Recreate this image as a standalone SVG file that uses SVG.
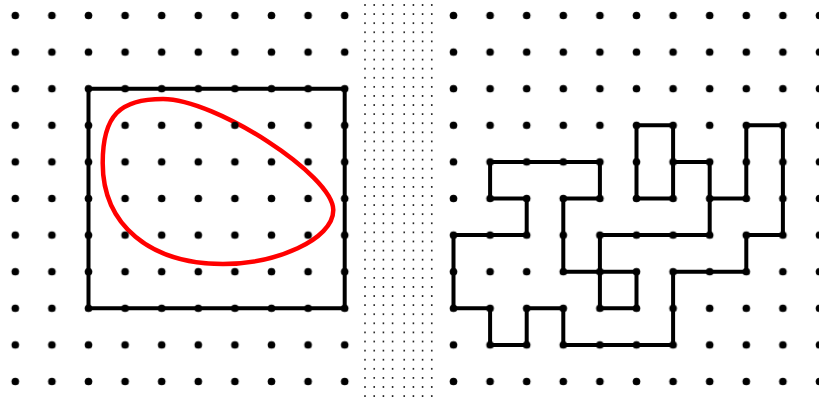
<svg xmlns="http://www.w3.org/2000/svg" width="819" height="399" viewBox="0 0 819 399">
  <style>
    .fig { fill: none; stroke: #000; stroke-width: 4; stroke-linejoin: round; stroke-linecap: round; }
    .curve { fill: none; stroke: #ff0000; stroke-width: 4.5; }
  </style>
  <defs>
    <pattern id="gridL" patternUnits="userSpaceOnUse" x="-3" y="-2.8" width="36.6" height="36.6">
      <circle cx="18.3" cy="18.3" r="3.8" fill="#000"/>
    </pattern>
    <pattern id="gridR" patternUnits="userSpaceOnUse" x="435.2" y="-2.8" width="36.6" height="36.6">
      <circle cx="18.3" cy="18.3" r="3.8" fill="#000"/>
    </pattern>
    <pattern id="fine" patternUnits="userSpaceOnUse" x="360" y="0.45" width="80" height="9.095">
      <circle cx="5" cy="4.55" r="0.95" fill="#111"/>
      <circle cx="14.2" cy="4.55" r="0.95" fill="#111"/>
      <circle cx="23.4" cy="4.55" r="0.95" fill="#111"/>
      <circle cx="32.6" cy="4.55" r="0.95" fill="#111"/>
      <circle cx="44.2" cy="4.55" r="0.95" fill="#111"/>
      <circle cx="53.4" cy="4.55" r="0.95" fill="#111"/>
      <circle cx="62.6" cy="4.55" r="0.95" fill="#111"/>
      <circle cx="71.8" cy="4.55" r="0.95" fill="#111"/>
    </pattern>
  </defs>
  <rect width="819" height="399" fill="#fff"/>

  <g id="middle-strip">
    <rect x="360" y="0" width="80" height="399" fill="url(#fine)"/>
  </g>

  <g id="left-figure">
    <path id="red-curve" class="curve" d="M163,99 C215,99 333,175 333.3,210 C333.3,240 275,264 223,264 C150,264 102.7,225 102.7,163 C102.7,115 120,99 163,99 Z"/>
    <rect id="rectangle" class="fig" x="88.5" y="88.7" width="256.2" height="219.6"/>
  </g>

  <g id="right-figure">
    <path class="fig" d="M673.1,161.9 L709.7,161.9 L709.7,235.1 L599.9,235.1 L599.9,308.3 L636.5,308.3 L636.5,271.7 L563.3,271.7 L563.3,198.5 L599.9,198.5 L599.9,161.9 L490.1,161.9 L490.1,198.5 L526.7,198.5 L526.7,235.1 L453.5,235.1 L453.5,308.3 L490.1,308.3 L490.1,344.9 L526.7,344.9 L526.7,308.3 L563.3,308.3 L563.3,344.9 L673.1,344.9 L673.1,271.7 L746.3,271.7 L746.3,235.1 L782.9,235.1 L782.9,125.3 L746.3,125.3 L746.3,198.5 L709.7,198.5 M636.5,125.3 L673.1,125.3 L673.1,198.5 L636.5,198.5 Z"/>
  </g>

  <g id="grid-dots">
    <rect x="-3" y="-2.8" width="366" height="402" fill="url(#gridL)"/>
    <rect x="435.2" y="-2.8" width="390" height="402" fill="url(#gridR)"/>
  </g>
</svg>
